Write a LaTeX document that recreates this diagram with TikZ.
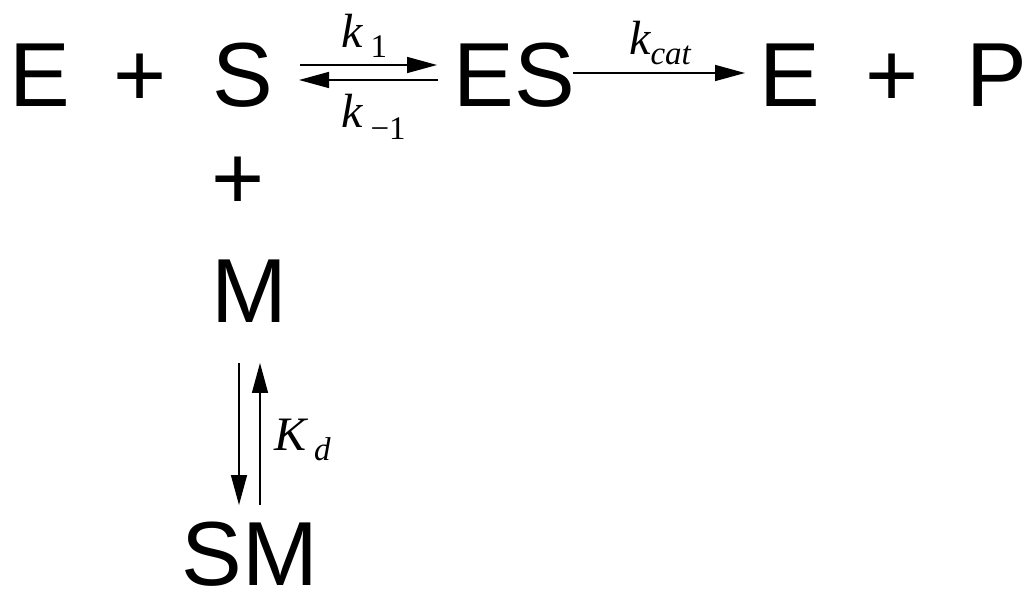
\documentclass[tikz,border=0pt]{standalone}
\usepackage{fontspec}
\setmainfont{Liberation Sans}
\newfontfamily\tms{Liberation Serif}
\usetikzlibrary{arrows.meta}
\newcommand{\bigtxt}{\fontsize{91}{100}\selectfont}
\newcommand{\labk}{\tms\fontsize{48}{50}\selectfont}
\newcommand{\labsub}{\tms\fontsize{33}{35}\selectfont}
\tikzset{
  species/.style={inner sep=0pt, anchor=base, font=\bigtxt},
  rate/.style={inner sep=0pt, anchor=base west},
  rxn/.style={line width=1.5pt, -{Triangle[length=30pt,width=16pt]}}
}
\begin{document}
\begin{tikzpicture}[x=1pt,y=-1pt]
\useasboundingbox[fill=white] (0,0) rectangle (1028,593);
\node[species] (E1) at (40,107) {E};
\node[species] (p1) at (140,107) {+};
\node[species] (S) at (243,107) {S};
\node[species] (ES) at (514,107) {ES};
\node[species] (E2) at (790,107) {E};
\node[species] (p2) at (892,107) {+};
\node[species] (P) at (997,107) {P};
\node[species] (p3) at (238,210) {+};
\node[species] (M) at (249,323) {M};
\node[species] (SM) at (250,585) {SM};
% rate labels
\node[rate] (k1) at (341,48) {\labk{\itshape k}\,\raisebox{-10pt}{\labsub\upshape 1}};
\node[rate] (km1) at (341,128) {\labk{\itshape k}\,\raisebox{-12pt}{\labsub\upshape −1}};
\node[rate] (kcat) at (629,55) {\labk{\itshape k}\raisebox{-10pt}{\labsub\itshape cat}};
\node[rate] (Kd) at (274,450) {\labk{\itshape K}\,\raisebox{-10pt}{\labsub\itshape d}};
% arrow end points
\coordinate (a1s) at (300,65);
\coordinate (a1e) at (437,65);
\coordinate (a2s) at (438,80);
\coordinate (a2e) at (299,80);
\coordinate (a3s) at (573,73);
\coordinate (a3e) at (745,73);
\coordinate (a4s) at (239,363);
\coordinate (a4e) at (239,505);
\coordinate (a5s) at (260,505);
\coordinate (a5e) at (260,363);
\draw[rxn] (a1s) -- (a1e);
\draw[rxn] (a2s) -- (a2e);
\draw[rxn] (a3s) -- (a3e);
\draw[rxn] (a4s) -- (a4e);
\draw[rxn] (a5s) -- (a5e);
\end{tikzpicture}
\end{document}
